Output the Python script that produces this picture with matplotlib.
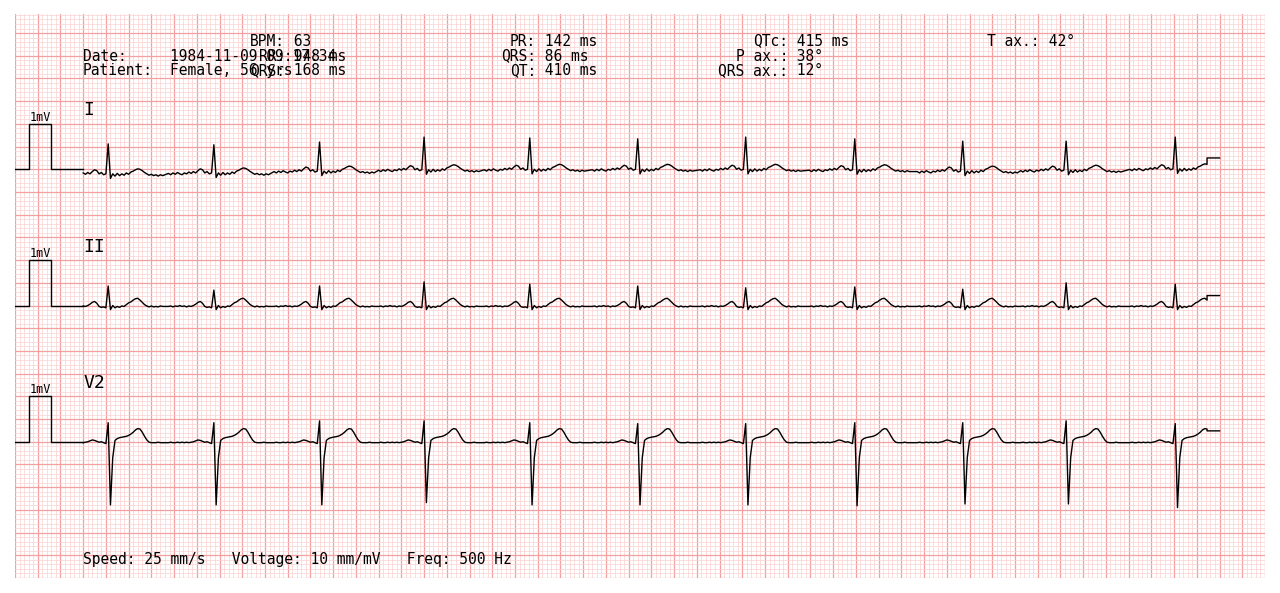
import numpy as np
import matplotlib.pyplot as plt
from matplotlib.ticker import MultipleLocator

# R peak times (s from start of trace)
r_times = [0.22, 1.15, 2.08, 3.00, 3.93, 4.88, 5.83, 6.79, 7.74, 8.65, 9.61]

# beat template samples, 0.02 s apart from -0.40 s to +0.48 s around the R peak
beat_offsets = np.round(np.arange(-0.40, 0.49, 0.02), 2)
r_index = 20

lead_I_beat = [-0.07, -0.10, -0.06, -0.09, -0.05, -0.08, -0.10, -0.06, -0.08, -0.04,
               -0.07, -0.03, -0.06, -0.01, 0.03, 0.01, -0.06, -0.03, -0.08, -0.06,
               0.0, -0.16, -0.06, -0.11, -0.05, -0.10, -0.06, -0.09, -0.04, -0.07,
               -0.02, 0.00, 0.03, 0.05, 0.04, 0.01, -0.03, -0.06, -0.09, -0.07,
               -0.10, -0.08, -0.11, -0.08, -0.10]
lead_II_beat = [-0.02, -0.01, -0.03, -0.01, -0.02, 0.00, -0.02, -0.01, -0.03, -0.01,
                -0.02, 0.00, 0.03, 0.07, 0.09, 0.05, -0.02, -0.04, -0.03, -0.05,
                0.0, -0.09, 0.00, -0.05, -0.02, -0.04, -0.01, -0.02, 0.02, 0.06,
                0.08, 0.12, 0.15, 0.16, 0.12, 0.07, 0.02, -0.01, -0.03, -0.01,
                -0.03, -0.02, -0.03, -0.01, -0.02]
lead_V2_beat = [-0.02, -0.01, -0.02, -0.02, -0.01, -0.02, -0.01, -0.02, -0.01, -0.02,
                -0.01, 0.00, 0.02, 0.04, 0.03, 0.01, -0.01, 0.00, -0.02, -0.04,
                0.0, -1.39, -0.35, 0.03, 0.07, 0.09, 0.10, 0.11, 0.12, 0.14,
                0.17, 0.21, 0.26, 0.29, 0.28, 0.21, 0.12, 0.04, -0.01, -0.02,
                -0.02, -0.02, -0.01, -0.02, -0.02]

# per beat values
lead_I_r = [0.56, 0.54, 0.60, 0.71, 0.69, 0.67, 0.71, 0.67, 0.62, 0.62, 0.71]
lead_I_shift = [-0.04, -0.02, 0.02, 0.05, 0.06, 0.06, 0.06, 0.05, 0.02, 0.04, 0.07]
lead_II_r = [0.43, 0.34, 0.43, 0.52, 0.47, 0.43, 0.39, 0.41, 0.36, 0.50, 0.47]
lead_V2_r = [0.42, 0.42, 0.46, 0.46, 0.42, 0.40, 0.40, 0.42, 0.42, 0.46, 0.40]
lead_V2_s = [-1.39, -1.39, -1.39, -1.34, -1.39, -1.39, -1.39, -1.41, -1.37, -1.37, -1.45]

trace_end = 9.89
tail_end = 10.0
tail_level = {'I': 0.25, 'II': 0.22, 'V2': 0.24}

lead_names = ['I', 'II', 'V2']
lead_offsets = [9, 6, 3]

cal_t = [0, 0.12, 0.12, 0.32, 0.32, 0.6]
cal_mv = [0, 0, 1, 1, 0, 0]
start = 0.6

header_left = [('Date:', '1984-11-09 09:17:34'), ('Patient:', 'Female, 56 yrs')]
header_cols = [
    [('BPM', '63'), ('RR', '948 ms'), ('QRS', '168 ms')],
    [('PR', '142 ms'), ('QRS', '86 ms'), ('QT', '410 ms')],
    [('QTc', '415 ms'), ('P ax.', '38°'), ('QRS ax.', '12°')],
    [('T ax.', '42°')],
]
footer = 'Speed: 25 mm/s   Voltage: 10 mm/mV   Freq: 500 Hz'


def build_trace(template, r_vals, shifts=None, s_vals=None):
    ts = []
    vs = []
    for i, r in enumerate(r_times):
        vals = np.array(template, dtype=float)
        if s_vals is not None:
            vals[r_index + 1] = s_vals[i]
        if shifts is not None:
            vals = vals + shifts[i]
        vals[r_index] = r_vals[i]
        ts.extend(r + beat_offsets)
        vs.extend(vals)
    ts = np.array(ts)
    vs = np.array(vs)
    keep = (ts >= 0) & (ts <= trace_end)
    return ts[keep], vs[keep]


traces = {
    'I': build_trace(lead_I_beat, lead_I_r, shifts=lead_I_shift),
    'II': build_trace(lead_II_beat, lead_II_r),
    'V2': build_trace(lead_V2_beat, lead_V2_r, s_vals=lead_V2_s),
}

fig = plt.figure(figsize=(12.8, 5.93), dpi=100)
ax = fig.add_axes([15 / 1280, 15 / 593, 1250 / 1280, 564 / 593])
ax.set_xlim(0, 11)
ax.set_ylim(0, 12.42)

ax.xaxis.set_major_locator(MultipleLocator(0.2))
ax.xaxis.set_minor_locator(MultipleLocator(0.04))
ax.yaxis.set_major_locator(MultipleLocator(0.5))
ax.yaxis.set_minor_locator(MultipleLocator(0.1))
ax.grid(which='major', color='#f4a0a0', linewidth=0.9)
ax.grid(which='minor', color='#fad2d2', linewidth=0.5)
ax.tick_params(which='both', length=0, labelbottom=False, labelleft=False)
for s in ax.spines.values():
    s.set_visible(False)
ax.set_axisbelow(True)

mono = 'DejaVu Sans Mono'
fs = 10.5
for name, off in zip(lead_names, lead_offsets):
    ax.plot(cal_t, np.array(cal_mv) + off, color='black', linewidth=1.0)
    ax.text(0.22, off + 1.15, '1mV', fontsize=8.5, family=mono, ha='center', va='center')
    t, v = traces[name]
    t = np.concatenate([t, [trace_end, tail_end]])
    v = np.concatenate([v, [tail_level[name], tail_level[name]]])
    ax.plot(t + start, v + off, color='black', linewidth=1.0)
    ax.text(start, off + 1.3, name, fontsize=13, family=mono, ha='left', va='center')

row_y = [11.825, 11.495, 11.165]
for i, (label, value) in enumerate(header_left):
    ax.text(0.598, row_y[i + 1], label, fontsize=fs, family=mono, ha='left', va='center')
    ax.text(1.364, row_y[i + 1], value, fontsize=fs, family=mono, ha='left', va='center')

col_x = [2.377, 4.586, 6.803, 9.017]
for cx, col in zip(col_x, header_cols):
    for i, (label, value) in enumerate(col):
        ax.text(cx, row_y[i], label + ':', fontsize=fs, family=mono, ha='right', va='center')
        ax.text(cx, row_y[i], ' ' + value, fontsize=fs, family=mono, ha='left', va='center')

ax.text(0.598, 0.418, footer, fontsize=fs, family=mono, ha='left', va='center')

fig.savefig('out.png', dpi=100, facecolor='white')
